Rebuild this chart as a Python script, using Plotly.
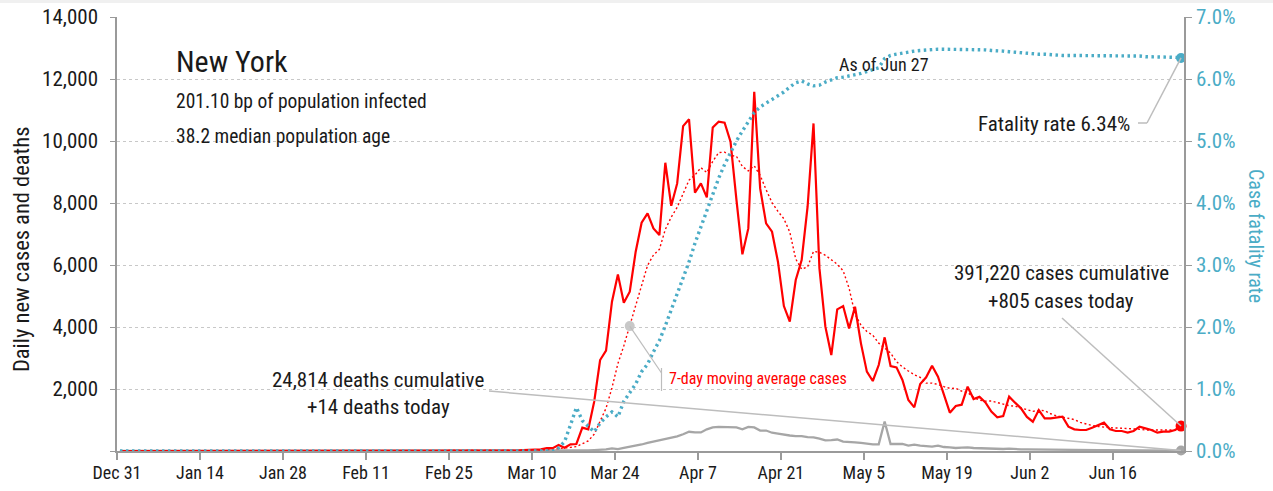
import pandas as pd
import plotly.graph_objects as go

# ---------------- data ----------------
dates = pd.date_range("2019-12-31 12:00", periods=180, freq="D")

cases = [0] * 61 + [
    1, 0, 1, 9, 11, 22, 13, 29, 37, 50,
    52, 96, 93, 194, 108, 215, 226, 753, 699, 1591,
    2935, 3236, 4816, 5698, 4784, 5139, 6429, 7364, 7665, 7181,
    6966, 9299, 7912, 8632, 10480, 10700, 8331, 8632, 8181, 10438,
    10621, 10589, 9976, 8100, 6343, 7181, 11589, 8471, 7342, 7074,
    6106, 4676, 4171, 5515, 6160, 7880, 10567, 5891, 4010, 3096,
    4569, 4676, 3956, 4655, 3472, 2559, 2258, 2774, 3666, 2741,
    2698, 2290, 1645, 1408, 2161, 2376, 2752, 2397, 1806, 1236,
    1451, 1494, 2075, 1677, 1752, 1570, 1269, 1086, 1129, 1752,
    1559, 1376, 1100, 946, 1322, 1054, 1054, 1075, 1107, 785,
    699, 677, 677, 753, 839, 914, 699, 645, 645, 591,
    645, 785, 731, 677, 591, 624, 624, 677, 805,
]

deaths = [0] * 74 + [
    2, 3, 5, 8, 10, 20, 30, 40, 50, 86,
    60, 100, 130, 180, 210, 260, 300, 330, 390, 430,
    470, 540, 620, 600, 600, 700, 760, 780, 770, 770,
    760, 700, 780, 760, 660, 660, 590, 560, 520, 500,
    480, 480, 450, 440, 400, 340, 350, 370, 300, 300,
    280, 260, 230, 215, 215, 950, 226, 215, 226, 172,
    204, 172, 161, 140, 172, 129, 118, 97, 107, 118,
    97, 86, 86, 75, 75, 65, 75, 54, 54, 54,
    50, 45, 48, 42, 40, 38, 35, 38, 32, 30,
    34, 28, 27, 25, 30, 24, 22, 26, 20, 18,
    22, 17, 16, 18, 15, 14,
]

cfr_pct = [0] * 74 + [
    0.05, 0.15, 0.42, 0.70, 0.49, 0.40, 0.31, 0.45, 0.55, 0.63,
    0.55, 0.80, 0.95, 1.08, 1.28, 1.40, 1.60, 1.78, 2.02, 2.28,
    2.52, 2.76, 3.05, 3.35, 3.62, 3.90, 4.15, 4.40, 4.62, 4.82,
    5.00, 5.16, 5.32, 5.46, 5.55, 5.61, 5.67, 5.73, 5.79, 5.87,
    5.94, 5.97, 5.92, 5.89, 5.90, 5.95, 5.98, 6.02, 6.03, 6.05,
    6.06, 6.09, 6.12, 6.15, 6.18, 6.33, 6.38, 6.40, 6.42, 6.44,
    6.45, 6.46, 6.47, 6.47, 6.48, 6.48, 6.48, 6.48, 6.48, 6.48,
    6.48, 6.47, 6.47, 6.46, 6.46, 6.45, 6.44, 6.43, 6.42, 6.42,
    6.41, 6.40, 6.40, 6.39, 6.39, 6.38, 6.38, 6.38, 6.37, 6.37,
    6.37, 6.37, 6.37, 6.37, 6.37, 6.37, 6.37, 6.37, 6.37, 6.36,
    6.36, 6.36, 6.35, 6.35, 6.35, 6.34,
]

ma_cases = pd.Series(cases).rolling(7, min_periods=1).mean()
ma_marker_index = 86  # Mar 26

tick_dates = pd.date_range("2019-12-31", periods=13, freq="14D")
tick_labels = ["Dec 31", "Jan 14", "Jan 28", "Feb 11", "Feb 25", "Mar 10", "Mar 24",
               "Apr 7", "Apr 21", "May 5", "May 19", "Jun 2", "Jun 16"]
left_ticks = [0, 2000, 4000, 6000, 8000, 10000, 12000, 14000]
left_labels = ["", "2,000", "4,000", "6,000", "8,000", "10,000", "12,000", "14,000"]
right_ticks = [0, 1, 2, 3, 4, 5, 6, 7]
right_labels = ["0.0%", "1.0%", "2.0%", "3.0%", "4.0%", "5.0%", "6.0%", "7.0%"]

title_text = "New York"
sub1 = "201.10 bp of population infected"
sub2 = "38.2 median population age"
asof_text = "As of Jun 27"
fatality_text = "Fatality rate 6.34%"
cases_text = ["391,220 cases cumulative", "+805 cases today"]
deaths_text = ["24,814 deaths cumulative", "+14 deaths today"]
ma_text = "7-day moving average cases"

# ---------------- styling ----------------
W, H = 1273, 491
ML, MR, MT, MB = 117, 89, 17, 40
PW, PH = W - ML - MR, H - MT - MB
FONT = "'Noto Sans Condensed', 'Roboto Condensed', 'Liberation Sans Narrow', 'DejaVu Sans Condensed', sans-serif"
RED = "#ff0000"
TEAL = "#4bacc6"
GRAY = "#a6a6a6"
AXIS = "#9a9a9a"
TXT = "#1a1a1a"

x_start = pd.Timestamp("2019-12-31")
x_end = pd.Timestamp("2020-06-28")
px_per_day = PW / (x_end - x_start).days


def px_x(px):
    return x_start + pd.Timedelta(days=(px - ML) / px_per_day)


def px_y(py, top=14000):
    return ((MT + PH) - py) / PH * top


def pxp(px):
    return (px - ML) / PW


def pyp(py):
    return (MT + PH - py) / PH


fig = go.Figure()
fig.add_trace(go.Scatter(x=dates, y=deaths, mode="lines",
                         line=dict(color=GRAY, width=2.3), hoverinfo="skip"))
fig.add_trace(go.Scatter(x=dates, y=ma_cases, mode="lines",
                         line=dict(color=RED, width=1.4, dash="2px,2.5px"), hoverinfo="skip"))
fig.add_trace(go.Scatter(x=dates, y=cases, mode="lines",
                         line=dict(color=RED, width=2.2), hoverinfo="skip"))
fig.add_trace(go.Scatter(x=[dates[ma_marker_index]], y=[ma_cases[ma_marker_index]], mode="markers",
                         marker=dict(color="#c8c8c8", size=10), hoverinfo="skip"))
fig.add_trace(go.Scatter(x=[dates[-1]], y=[deaths[-1]], mode="markers",
                         marker=dict(color="#a6a6a6", size=10), hoverinfo="skip", cliponaxis=False))
fig.add_trace(go.Scatter(x=[dates[-1]], y=[cases[-1]], mode="markers",
                         marker=dict(color=RED, size=11), hoverinfo="skip", cliponaxis=False))
fig.add_trace(go.Scatter(x=dates, y=cfr_pct, yaxis="y2", mode="lines",
                         line=dict(color=TEAL, width=3.4, dash="2.5px,3.5px"), hoverinfo="skip"))
fig.add_trace(go.Scatter(x=[dates[-1]], y=[cfr_pct[-1]], yaxis="y2", mode="markers",
                         marker=dict(color=TEAL, size=10), hoverinfo="skip", cliponaxis=False))

LEAD = "#bdbdbd"
shapes = [
    dict(type="rect", xref="paper", yref="paper", x0=-0.2, x1=1.2,
         y0=1 + (MT - 3) / PH, y1=1 + MT / PH, fillcolor="#f0f0f0", line=dict(width=0), layer="below"),
    dict(type="line", xref="x", yref="y", x0=px_x(489), y0=px_y(391), x1=dates[-1], y1=deaths[-1],
         line=dict(color=LEAD, width=1.5)),
    dict(type="line", xref="x", yref="y", x0=px_x(1062), y0=px_y(318), x1=dates[-1], y1=cases[-1],
         line=dict(color=LEAD, width=1.5)),
    dict(type="line", xref="x", yref="y2", x0=px_x(1138), y0=px_y(123, 7), x1=px_x(1147), y1=px_y(123, 7),
         line=dict(color=LEAD, width=1.5)),
    dict(type="line", xref="x", yref="y2", x0=px_x(1147), y0=px_y(123, 7), x1=dates[-1], y1=cfr_pct[-1],
         line=dict(color=LEAD, width=1.5)),
    dict(type="line", xref="x", yref="y", x0=dates[ma_marker_index], y0=ma_cases[ma_marker_index],
         x1=px_x(661.5), y1=px_y(373), line=dict(color=LEAD, width=1.2)),
    dict(type="line", xref="x", yref="y", x0=px_x(661.5), y0=px_y(368), x1=px_x(661.5), y1=px_y(391),
         line=dict(color=LEAD, width=1.2)),
]

ann = []


def add_text(text, px, py, size, color=TXT, xanchor="left", **kw):
    ann.append(dict(text=text, xref="paper", yref="paper", x=pxp(px), y=pyp(py),
                    xanchor=xanchor, yanchor="middle", showarrow=False,
                    font=dict(family=FONT, size=size, color=color), **kw))


add_text(title_text, 174, 61, 30)
add_text(sub1, 174, 101, 19.5)
add_text(sub2, 174, 136, 19.5)
add_text(asof_text, 884, 65, 18, xanchor="center")
add_text(fatality_text, 1132, 124, 21, xanchor="right")
add_text(cases_text[0], 1061, 273, 21, xanchor="center")
add_text(cases_text[1], 1061, 301, 21, xanchor="center")
add_text(deaths_text[0], 378, 380, 21, xanchor="center")
add_text(deaths_text[1], 378, 407, 21, xanchor="center")
add_text(ma_text, 667, 378, 16, color=RED)
add_text("Daily new cases and deaths", 21, 250, 22.5, xanchor="center", textangle=-90)
add_text("Case fatality rate", 1256, 236, 20, color=TEAL, xanchor="center", textangle=90)

fig.update_layout(
    width=W, height=H,
    margin=dict(l=ML, r=MR, t=MT, b=MB, pad=0, autoexpand=False),
    paper_bgcolor="white", plot_bgcolor="white",
    showlegend=False,
    shapes=shapes, annotations=ann,
    xaxis=dict(type="date", range=[x_start, x_end], tickvals=tick_dates, ticktext=tick_labels,
               automargin=False,
               showgrid=False, zeroline=False, showline=True, linecolor=AXIS, linewidth=2,
               ticks="outside", ticklen=7, tickcolor=AXIS, tickwidth=1.5, ticklabelstandoff=-3,
               tickfont=dict(family=FONT, size=18, color=TXT)),
    yaxis=dict(range=[0, 14000], tickvals=left_ticks, ticktext=left_labels, automargin=False,
               showgrid=True, gridcolor="#c8c8c8", griddash="dot", gridwidth=1,
               zeroline=False, showline=True, linecolor=AXIS, linewidth=1.5,
               ticks="outside", ticklen=5, tickcolor=AXIS, ticklabelstandoff=8,
               tickfont=dict(family=FONT, size=21, color=TXT)),
    yaxis2=dict(range=[0, 7], tickvals=right_ticks, ticktext=right_labels, overlaying="y", side="right",
                automargin=False,
                showgrid=False, zeroline=False, showline=True, linecolor=AXIS, linewidth=1.5,
                ticks="outside", ticklen=6, tickcolor=AXIS,
                tickfont=dict(family=FONT, size=21, color=TEAL)),
)

fig.write_html("out.html", config={"displayModeBar": False},
               post_script="document.body.style.margin='0px';document.body.style.overflow='hidden';")
